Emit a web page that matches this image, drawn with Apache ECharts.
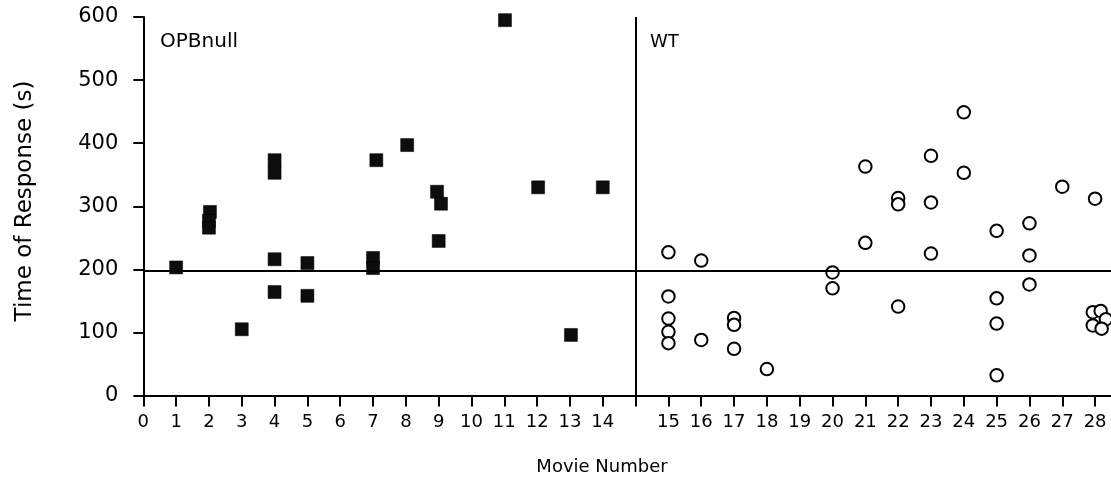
<!DOCTYPE html>
<html>
<head>
<meta charset="utf-8">
<script src="https://cdn.jsdelivr.net/npm/echarts@6/dist/echarts.min.js"></script>
<style>
html,body{margin:0;padding:0;background:#fff;}
#chart{width:1111px;height:491px;}
</style>
</head>
<body>
<div id="chart"></div>
<script>
// Movie numbers (x) and time of response in seconds (y)
const opbMovies = [1, 2.03, 2, 2, 3, 4, 4, 4, 4, 5, 5, 7.1, 7, 7, 8.04, 8.95, 9.07, 9, 11.02, 12.03, 13.03, 14];
const opbTimes  = [203, 291, 277, 266, 105, 373, 353, 216, 164, 210, 158, 373, 218, 202, 397, 323, 304, 245, 595, 330, 96, 330];

const wtMovies = [15, 15, 15, 15, 15, 16, 16, 17, 17, 17, 18, 20, 20, 21, 21, 22, 22, 22,
                  23, 23, 23, 24, 24, 25, 25, 25, 25, 26, 26, 26, 27, 28, 27.93, 28.17, 28.33, 27.93, 28.2];
const wtTimes  = [227, 157, 122, 101, 83, 214, 88, 123, 112, 74, 42, 195, 170, 363, 242, 313, 303, 141,
                  380, 306, 225, 449, 353, 261, 154, 114, 32, 273, 222, 176, 331, 312, 132, 134, 121, 111, 106];

const yTicks = [0, 100, 200, 300, 400, 500, 600];
const refLineValue = 198;
const groupLabels = ['OPBnull', 'WT'];
const dividerMovie = 15; // axis slot separating the two groups

// axis slot for a movie number: the WT group starts one slot after the divider
function slot(m) { return m < dividerMovie ? m : m + 1; }

const opbData = opbMovies.map((m, i) => [slot(m), opbTimes[i]]);
const wtData = wtMovies.map((m, i) => [slot(m), wtTimes[i]]);

const FONT = 'DejaVu Sans';
const chart = echarts.init(document.getElementById('chart'), null, {renderer: 'canvas'});
chart.setOption({
  animation: false,
  backgroundColor: '#fff',
  grid: {left: 143.3, top: 17, width: 984.6, height: 378.5, containLabel: false, outerBoundsMode: 'none'},
  xAxis: {
    type: 'value', min: 0, max: 30, interval: 1,
    splitLine: {show: false},
    axisLine: {lineStyle: {color: '#000', width: 2}},
    axisTick: {length: 11, lineStyle: {color: '#000', width: 2}},
    axisLabel: {
      color: '#000', fontFamily: FONT, fontSize: 18, margin: 18,
      showMaxLabel: false,
      formatter: function (v) {
        if (v < dividerMovie) return String(v);
        if (v === dividerMovie || v >= 30) return '';
        return String(v - 1);
      }
    }
  },
  yAxis: {
    type: 'value', min: yTicks[0], max: yTicks[yTicks.length - 1], interval: 100,
    splitLine: {show: false},
    axisLine: {lineStyle: {color: '#000', width: 2}},
    axisTick: {length: 10, lineStyle: {color: '#000', width: 2}},
    axisLabel: {color: '#000', fontFamily: FONT, fontSize: 21, margin: 25}
  },
  graphic: [
    {type: 'text', x: 25, y: 201, rotation: Math.PI / 2,
     style: {text: 'Time of Response (s)', fontFamily: FONT, fontSize: 23, fill: '#000', align: 'center', verticalAlign: 'middle'}},
    {type: 'text', x: 602, y: 467,
     style: {text: 'Movie Number', fontFamily: FONT, fontSize: 18, fill: '#000', align: 'center', verticalAlign: 'middle'}},
    {type: 'text', x: 160, y: 42,
     style: {text: groupLabels[0], fontFamily: FONT, fontSize: 20, fill: '#000', align: 'left', verticalAlign: 'middle'}},
    {type: 'text', x: 650, y: 42,
     style: {text: groupLabels[1], fontFamily: FONT, fontSize: 18, fill: '#000', align: 'left', verticalAlign: 'middle'}}
  ],
  series: [
    {
      type: 'scatter', name: 'OPBnull', data: opbData, clip: false,
      symbol: 'rect', symbolSize: 13,
      itemStyle: {color: '#0d0d0d', borderColor: '#000', borderWidth: 0.5, opacity: 1},
      markLine: {
        silent: true, symbol: 'none', label: {show: false},
        lineStyle: {color: '#000', width: 2, type: 'solid'},
        data: [
          {yAxis: refLineValue},
          {xAxis: dividerMovie}
        ]
      },
      z: 3
    },
    {
      type: 'scatter', name: 'WT', data: wtData, clip: false,
      symbol: 'circle', symbolSize: 12.5,
      itemStyle: {color: '#fff', borderColor: '#000', borderWidth: 2, opacity: 1},
      z: 4
    }
  ]
});
</script>
</body>
</html>
